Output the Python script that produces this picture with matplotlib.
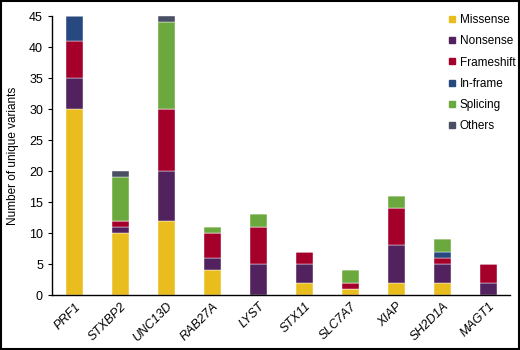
import matplotlib
matplotlib.use("Agg")
import matplotlib.pyplot as plt
import numpy as np
from matplotlib.patches import Rectangle

genes = ["PRF1", "STXBP2", "UNC13D", "RAB27A", "LYST", "STX11", "SLC7A7",
         "XIAP", "SH2D1A", "MAGT1"]
missense = [30, 10, 12, 4, 0, 2, 1, 2, 2, 0]
nonsense = [5, 1, 8, 2, 5, 3, 0, 6, 3, 2]
frameshift = [6, 1, 10, 4, 6, 2, 1, 6, 1, 3]
inframe = [4, 0, 0, 0, 0, 0, 0, 0, 1, 0]
splicing = [0, 7, 14, 1, 2, 0, 2, 2, 2, 0]
others = [0, 1, 1, 0, 0, 0, 0, 0, 0, 0]

categories = ["Missense", "Nonsense", "Frameshift", "In-frame", "Splicing", "Others"]
colors = ["#EABD1F", "#52225E", "#A5002A", "#28497F", "#6BA83E", "#4A5064"]
series = [missense, nonsense, frameshift, inframe, splicing, others]

plt.rcParams["font.family"] = ["Liberation Sans", "DejaVu Sans"]

fig = plt.figure(figsize=(5.2, 3.5), dpi=100)
ax = fig.add_axes([0.1, 0.157, 0.881, 0.797])

x = np.arange(len(genes))
bottom = np.zeros(len(genes))
handles = []
for name, vals, col in zip(categories, series, colors):
    vals = np.array(vals, dtype=float)
    ax.bar(x, vals, 0.38, bottom=bottom, color=col, label=name,
           edgecolor="white", linewidth=0.3)
    bottom += vals
    handles.append(plt.Line2D([], [], marker="s", ls="", color=col, markersize=4))

ax.set_xlim(-0.49, 9.47)
ax.set_ylim(0, 45)
ax.set_yticks(range(0, 46, 5))
ax.set_xticks(x)
ax.set_xticklabels(genes, rotation=45, ha="right", rotation_mode="anchor",
                   fontstyle="italic", fontsize=9)
ax.tick_params(axis="x", length=0, pad=4)
ax.tick_params(axis="y", length=3, labelsize=9, width=0.8)
for s in ["top", "right"]:
    ax.spines[s].set_visible(False)
for s in ["left", "bottom"]:
    ax.spines[s].set_linewidth(1.0)
ax.set_ylabel("Number of unique variants", fontsize=8.5,
              family=["Liberation Sans Narrow", "Liberation Sans", "DejaVu Sans"],
              labelpad=7)

ax.legend(handles, categories, loc="upper right", bbox_to_anchor=(1.035, 1.045),
          frameon=False, fontsize=8.5, handletextpad=0.1, labelspacing=0.78,
          handlelength=1.2)

fig.patches.append(Rectangle((0.002, 0.003), 0.996, 0.994, transform=fig.transFigure,
                             fill=False, edgecolor="black", linewidth=1.5))

fig.savefig("out.png", dpi=100)
